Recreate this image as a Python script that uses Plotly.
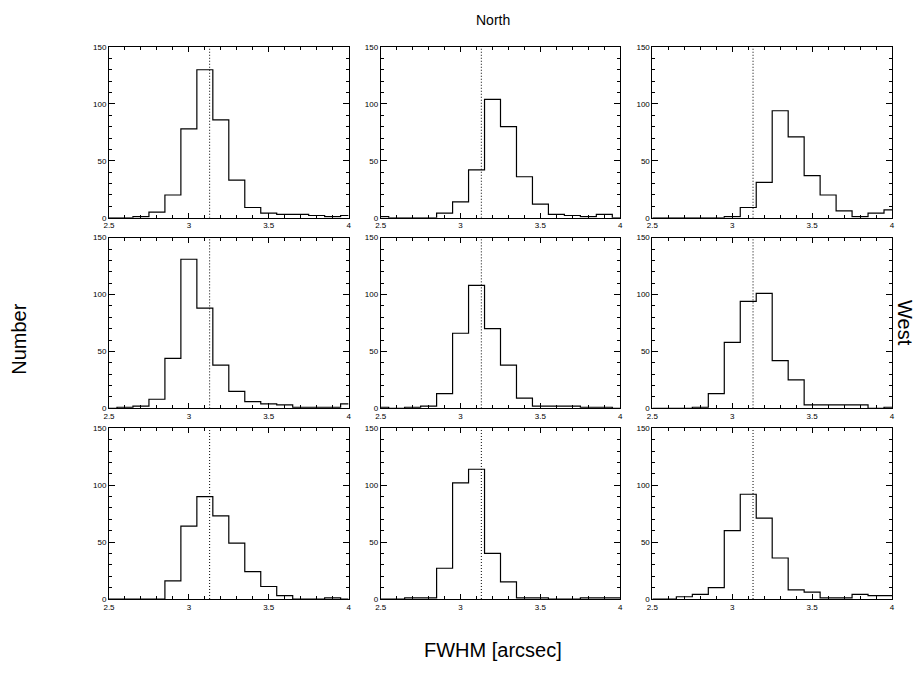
import plotly.graph_objects as go
from plotly.subplots import make_subplots

# Bin centres (width 0.1) in arcsec
bin_centers = [2.5, 2.6, 2.7, 2.8, 2.9, 3.0, 3.1, 3.2, 3.3, 3.4, 3.5, 3.6, 3.7, 3.8, 3.9, 4.0]

# Counts per panel, row-major (top-left -> bottom-right)
p11 = [0, 0, 1, 5, 20, 78, 130, 86, 33, 9, 4, 3, 3, 2, 1, 2]
p12 = [1, 0, 0, 0, 4, 14, 42, 104, 80, 36, 12, 3, 2, 1, 3, 0]
p13 = [0, 0, 0, 0, 0, 1, 9, 31, 94, 71, 37, 20, 6, 1, 4, 7]
p21 = [0, 1, 2, 8, 44, 131, 88, 38, 15, 6, 4, 3, 1, 1, 1, 4]
p22 = [1, 0, 1, 2, 13, 66, 108, 70, 38, 9, 2, 2, 2, 1, 1, 0]
p23 = [0, 0, 0, 1, 13, 58, 94, 101, 42, 25, 3, 3, 3, 3, 0, 1]
p31 = [0, 0, 0, 0, 16, 64, 90, 73, 49, 24, 11, 3, 0, 0, 1, 0]
p32 = [0, 0, 1, 1, 27, 102, 114, 40, 15, 1, 1, 0, 0, 1, 1, 1]
p33 = [0, 0, 2, 4, 10, 60, 92, 71, 36, 8, 6, 1, 1, 4, 3, 3]
panels = [p11, p12, p13, p21, p22, p23, p31, p32, p33]

reference_fwhm = 3.13
x_ticks = [2.5, 3, 3.5, 4]
x_tick_text = ["2.5", "3", "3.5", "4"]
y_ticks = [0, 50, 100, 150]
y_tick_text = ["0", "50", "100", "150"]

FONT = "Liberation Sans, Arial, Helvetica, sans-serif"

fig = make_subplots(rows=3, cols=3, horizontal_spacing=0.041, vertical_spacing=0.036)

for i, counts in enumerate(panels):
    r, c = i // 3 + 1, i % 3 + 1
    fig.add_trace(go.Scatter(x=bin_centers, y=counts, mode="lines",
                             line=dict(shape="hvh", color="black", width=1.2),
                             showlegend=False, hoverinfo="skip"), row=r, col=c)
    fig.add_trace(go.Scatter(x=[reference_fwhm, reference_fwhm], y=[0, 150], mode="lines",
                             line=dict(color="black", width=1, dash="1px,2px"),
                             showlegend=False, hoverinfo="skip"), row=r, col=c)

fig.update_xaxes(range=[2.5, 4], tickvals=x_ticks, ticktext=x_tick_text,
                 ticks="inside", ticklen=5, tickcolor="black", tickwidth=1,
                 showline=True, linecolor="black", linewidth=1, mirror="allticks",
                 showgrid=False, zeroline=False,
                 minor=dict(ticks="inside", ticklen=3, dtick=0.1, tickcolor="black", showgrid=False),
                 tickfont=dict(size=8, family=FONT, color="black"))
fig.update_yaxes(range=[0, 150], tickvals=y_ticks, ticktext=y_tick_text,
                 ticks="inside", ticklen=6, tickcolor="black", tickwidth=1,
                 showline=True, linecolor="black", linewidth=1, mirror="allticks",
                 showgrid=False, zeroline=False,
                 minor=dict(ticks="inside", ticklen=3, dtick=10, tickcolor="black", showgrid=False),
                 tickfont=dict(size=8, family=FONT, color="black"))

annotations = [
    dict(text="North", x=0.49, y=1.03, xref="paper", yref="paper", showarrow=False,
         font=dict(size=14, family=FONT, color="black"), xanchor="center", yanchor="bottom"),
    dict(text="Number", x=-0.116, y=0.47, xref="paper", yref="paper", showarrow=False,
         textangle=-90, font=dict(size=20, family=FONT, color="black"),
         xanchor="center", yanchor="middle"),
    dict(text="West", x=1.0166, y=0.5, xref="paper", yref="paper", showarrow=False,
         textangle=90, font=dict(size=20, family=FONT, color="black"),
         xanchor="center", yanchor="middle"),
    dict(text="FWHM [arcsec]", x=0.49, y=-0.068, xref="paper", yref="paper", showarrow=False,
         font=dict(size=20, family=FONT, color="black"), xanchor="center", yanchor="top"),
]
fig.update_layout(width=913, height=667, margin=dict(l=101, r=29, t=39, b=76),
                  plot_bgcolor="white", paper_bgcolor="white",
                  annotations=annotations, font=dict(family=FONT, color="black"))

fig.write_html("out.html")
